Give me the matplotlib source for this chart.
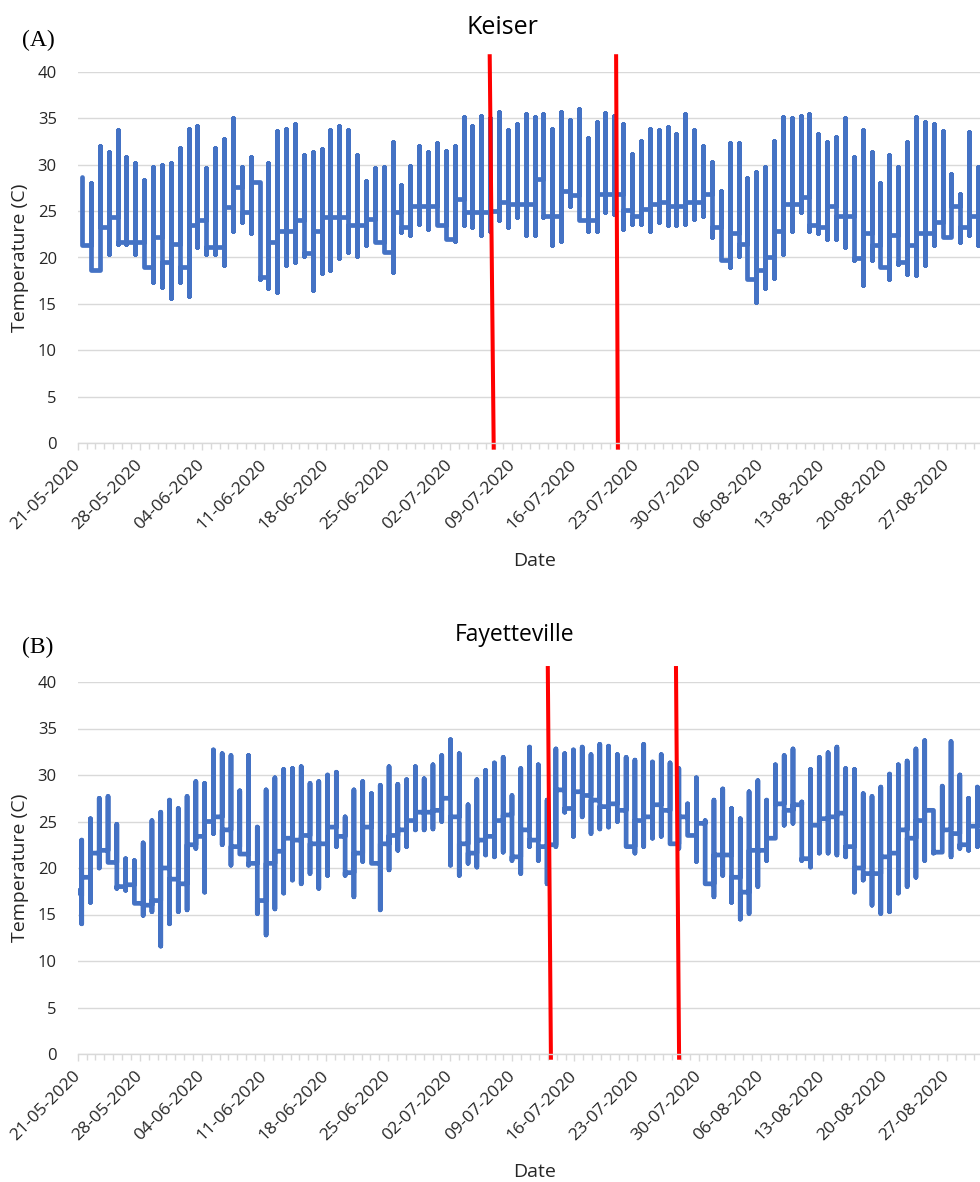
import numpy as np
import matplotlib
matplotlib.use("Agg")
import matplotlib.pyplot as plt

# ---------------- data ----------------
tick_labels = ["21-05-2020", "28-05-2020", "04-06-2020", "11-06-2020", "18-06-2020",
               "25-06-2020", "02-07-2020", "09-07-2020", "16-07-2020", "23-07-2020",
               "30-07-2020", "06-08-2020", "13-08-2020", "20-08-2020", "27-08-2020"]

# Keiser: daily max, daily min, end-of-day level
keiser_max = [28.7, 28.0, 32.0, 31.4, 33.7, 30.8, 30.2, 28.4, 29.8, 30.0,
              30.2, 31.8, 33.9, 34.2, 29.7, 31.8, 32.8, 35.0, 29.8, 30.8,
              28.1, 30.2, 33.6, 33.9, 34.4, 31.0, 31.4, 31.7, 33.7, 34.2,
              33.7, 31.0, 28.3, 29.6, 29.8, 32.5, 27.8, 29.9, 32.0, 31.4,
              32.3, 31.5, 32.0, 35.1, 34.2, 35.3, 35.0, 35.7, 33.8, 34.4,
              35.5, 35.1, 35.5, 33.9, 35.7, 34.8, 36.0, 32.9, 34.6, 35.6,
              35.3, 34.4, 31.2, 32.6, 33.9, 33.8, 34.1, 33.3, 35.5, 33.8,
              32.0, 30.3, 27.2, 32.3, 32.3, 28.6, 29.2, 29.8, 32.6, 35.1,
              35.0, 35.3, 35.5, 33.3, 32.4, 33.0, 35.0, 30.8, 33.8, 31.4,
              28.0, 31.0, 29.8, 32.4, 35.1, 34.6, 34.4, 33.6, 29.0, 26.9,
              33.5, 29.8]
keiser_min = [21.3, 18.6, 18.6, 20.4, 21.5, 21.5, 20.4, 19.0, 17.4, 16.8,
              15.6, 17.4, 15.9, 21.1, 20.4, 20.4, 19.2, 22.9, 23.8, 22.6,
              17.7, 16.7, 16.3, 19.2, 19.5, 20.2, 16.5, 18.3, 18.6, 19.9,
              20.6, 20.2, 21.3, 21.7, 20.6, 18.4, 22.8, 22.4, 23.6, 23.1,
              23.5, 22.0, 21.8, 23.5, 23.3, 22.4, 22.9, 24.0, 23.3, 24.4,
              22.4, 22.4, 24.4, 21.3, 21.8, 25.6, 24.0, 22.9, 22.9, 24.9,
              24.7, 23.1, 23.6, 23.6, 22.9, 23.8, 23.5, 23.5, 23.6, 24.2,
              24.5, 22.2, 19.7, 19.0, 20.2, 17.7, 15.2, 16.7, 17.8, 20.4,
              22.9, 24.9, 22.9, 22.6, 22.0, 22.0, 21.1, 19.7, 17.0, 19.7,
              19.0, 17.7, 19.3, 18.2, 18.1, 19.2, 21.3, 22.2, 22.2, 21.7,
              22.4, 21.3]
keiser_night = [21.4, 18.6, 23.3, 24.4, 21.7, 21.7, 21.7, 19.0, 22.2, 19.5,
                21.5, 19.0, 23.5, 24.0, 21.1, 21.1, 25.4, 27.6, 24.9, 28.1,
                17.9, 21.7, 22.9, 22.9, 24.0, 20.5, 22.9, 24.4, 24.4, 24.4,
                23.5, 23.5, 24.2, 21.7, 20.6, 24.9, 23.3, 25.6, 25.6, 25.6,
                23.5, 22.0, 26.3, 24.9, 24.9, 24.9, 25.0, 26.0, 25.8, 25.8,
                25.8, 28.5, 24.5, 24.5, 27.2, 26.7, 24.0, 24.0, 26.9, 26.9,
                26.9, 25.1, 24.5, 25.2, 25.8, 26.0, 25.6, 25.6, 26.0, 26.0,
                26.9, 23.3, 19.7, 22.6, 21.5, 17.7, 18.6, 20.1, 22.9, 25.8,
                25.8, 26.5, 23.5, 23.3, 25.6, 24.5, 24.5, 19.9, 22.6, 21.3,
                19.0, 22.4, 19.5, 21.3, 22.6, 22.6, 23.8, 22.2, 25.6, 23.3,
                24.5, 24.0]

# Fayetteville: daily max, daily min, end-of-day level
fay_lead = 17.6
fay_max = [23.0, 25.3, 27.5, 27.7, 24.7, 21.0, 20.8, 22.7, 25.1, 26.0,
           27.3, 26.4, 27.7, 29.3, 29.1, 32.7, 32.3, 32.1, 28.3, 32.1,
           24.4, 28.4, 29.7, 30.6, 30.7, 30.9, 29.1, 29.3, 30.0, 30.3,
           25.5, 28.4, 29.3, 28.0, 28.9, 30.9, 29.0, 29.5, 30.9, 29.6,
           31.1, 32.1, 33.8, 32.3, 26.8, 29.5, 30.5, 31.3, 31.9, 27.8,
           30.7, 33.0, 31.1, 27.3, 32.8, 32.3, 32.7, 33.0, 32.2, 33.3,
           33.1, 32.2, 31.9, 31.6, 33.3, 31.4, 32.2, 31.3, 30.7, 26.9,
           29.7, 25.1, 27.3, 28.5, 26.4, 25.3, 28.2, 29.4, 27.3, 31.1,
           32.1, 32.8, 27.1, 30.6, 31.9, 32.4, 33.0, 30.7, 30.6, 28.0,
           27.7, 28.7, 30.1, 31.1, 31.5, 32.8, 33.7, 26.2, 28.8, 33.6,
           30.0, 27.5, 28.7]
fay_min = [14.0, 16.3, 20.0, 20.8, 17.8, 17.6, 16.2, 14.9, 15.3, 11.6,
           14.0, 15.3, 15.5, 22.1, 17.4, 23.7, 22.5, 20.3, 21.9, 20.3,
           15.1, 12.8, 15.6, 17.3, 18.7, 18.3, 19.4, 17.8, 19.2, 22.3,
           19.2, 16.9, 20.7, 21.0, 15.5, 19.8, 21.9, 22.3, 24.1, 24.1,
           24.2, 25.0, 20.3, 19.2, 20.5, 20.1, 21.4, 21.2, 21.7, 20.8,
           19.4, 22.3, 20.8, 18.3, 22.3, 26.0, 23.4, 25.5, 23.7, 24.2,
           24.4, 25.0, 22.3, 21.6, 22.3, 23.2, 23.4, 22.6, 22.1, 23.5,
           20.7, 18.3, 16.9, 19.2, 16.3, 14.5, 15.1, 18.0, 20.8, 23.8,
           24.6, 24.8, 20.8, 20.1, 21.6, 21.6, 21.4, 21.2, 17.4, 18.7,
           16.0, 15.1, 15.3, 17.3, 18.0, 19.0, 20.8, 21.6, 21.9, 21.2,
           22.1, 21.9, 22.3]
fay_night = [19.0, 21.6, 21.9, 20.6, 18.0, 18.2, 16.2, 16.0, 16.5, 20.0,
             18.8, 18.3, 22.5, 23.4, 25.0, 25.5, 24.1, 22.3, 21.5, 20.5,
             16.5, 20.5, 21.8, 23.2, 23.0, 23.5, 22.6, 22.6, 24.4, 23.4,
             19.5, 21.6, 24.4, 20.5, 22.6, 23.5, 24.1, 25.1, 26.0, 26.0,
             26.2, 27.5, 25.5, 22.6, 21.6, 23.0, 23.4, 25.1, 25.7, 21.2,
             24.1, 23.0, 22.3, 22.5, 28.4, 26.4, 28.2, 27.8, 27.3, 26.6,
             26.9, 26.2, 22.3, 25.1, 25.5, 26.8, 26.2, 22.6, 25.5, 23.5,
             24.8, 18.3, 21.4, 21.4, 19.0, 17.4, 21.9, 21.9, 23.2, 26.9,
             26.2, 26.8, 21.0, 24.6, 25.3, 25.5, 25.9, 22.3, 20.0, 19.4,
             19.4, 21.2, 21.6, 24.1, 23.2, 25.1, 26.2, 21.7, 24.1, 23.7,
             22.5, 24.5, 24.0]

# red marker lines (day position at top, day position at bottom)
keiser_marks = [(46.45, 46.9), (60.7, 60.9)]
fay_marks = [(53.0, 53.35), (67.45, 67.8)]

# ---------------- style ----------------
W, H = 980, 1182
BLUE = "#4472C4"
GRID = "#D9D9D9"
SANS = ["Open Sans", "DejaVu Sans"]
SERIF = ["Liberation Serif", "DejaVu Serif"]

fig = plt.figure(figsize=(W / 100, H / 100), dpi=100)

x_left_px, x_right_px = 77.7, 980.0
day_px = 8.87
xmax = (x_right_px - x_left_px) / day_px


def day_path(pos, hi, lo, night, start):
    xs, ys = [], []
    prev = start
    for p, a, b, c in zip(pos, hi, lo, night):
        xs += [p, p, p, p]
        ys += [prev, a, b, c]
        prev = c
    return xs, ys


def make_axes(top_px, bot_px, date_px):
    h = bot_px - top_px
    ax = fig.add_axes([x_left_px / W, 1 - bot_px / H,
                       (x_right_px - x_left_px) / W, h / H])
    ax.set_xlim(0, xmax)
    ax.set_ylim(0, 40)
    ax.set_yticks(np.arange(0, 41, 5))
    for s in ("left", "right", "top"):
        ax.spines[s].set_visible(False)
    ax.spines["bottom"].set_color(GRID)
    ax.spines["bottom"].set_linewidth(1.0)
    ax.grid(axis="y", color=GRID, linewidth=1.0)
    ax.set_axisbelow(True)
    ax.set_xticks(np.arange(0, 7 * len(tick_labels), 7))
    ax.set_xticks(np.arange(0, int(xmax) + 1), minor=True)
    ax.set_xticklabels(tick_labels, rotation=45, ha="right", va="center",
                       rotation_mode="anchor", fontsize=12.5, color="#262626",
                       family=SANS)
    ax.tick_params(axis="x", which="major", length=5, width=1.0, color=GRID, pad=9)
    ax.tick_params(axis="x", which="minor", length=4, width=1.0, color=GRID)
    ax.tick_params(axis="y", length=0, pad=15, labelsize=12, labelcolor="#262626")
    for t in ax.get_yticklabels():
        t.set_family(SANS)
    ax.set_ylabel("Temperature (C)", fontsize=14, family=SANS, color="#262626",
                  va="center")
    ax.yaxis.set_label_coords(-0.064, 0.5)
    ax.set_xlabel("Date", fontsize=14, family=SANS, color="#262626", va="center")
    ax.xaxis.set_label_coords((535 - x_left_px) / (x_right_px - x_left_px),
                              -(date_px - bot_px) / h)
    return ax


# ---- panel A ----
axA = make_axes(72, 443, 561)
posA = np.arange(len(keiser_max)) + 0.5
xs, ys = day_path(posA, keiser_max, keiser_min, keiser_night, keiser_max[0])
axA.plot(xs, ys, color=BLUE, lw=3.4, solid_joinstyle="round", solid_capstyle="round")
for xt, xb in keiser_marks:
    axA.plot([xt, xb], [41.7, -0.5], color="red", lw=2.9, clip_on=False)

# ---- panel B ----
axB = make_axes(682, 1054, 1172)
fay_step = 0.99
posB = 0.45 + np.arange(len(fay_max)) * fay_step
xs, ys = day_path(posB, fay_max, fay_min, fay_night, 17.0)
xs = [0.0] + xs
ys = [fay_lead] + ys
axB.plot(xs, ys, color=BLUE, lw=3.4, solid_joinstyle="round", solid_capstyle="round")
for xt, xb in fay_marks:
    axB.plot([xt, xb], [41.5, -0.4], color="red", lw=2.9, clip_on=False)

# ---- titles and panel letters ----
fig.text(502 / W, 1 - 27 / H, "Keiser", ha="center", va="center", fontsize=18,
         family=SANS, color="black")
fig.text(515 / W, 1 - 635 / H, "Fayetteville", ha="center", va="center", fontsize=16.5,
         family=SANS, color="black")
fig.text(38 / W, 1 - 40 / H, "(A)", ha="center", va="center", fontsize=17,
         family=SERIF, color="black")
fig.text(38 / W, 1 - 647 / H, "(B)", ha="center", va="center", fontsize=17,
         family=SERIF, color="black")

fig.savefig("out.png", dpi=100)
